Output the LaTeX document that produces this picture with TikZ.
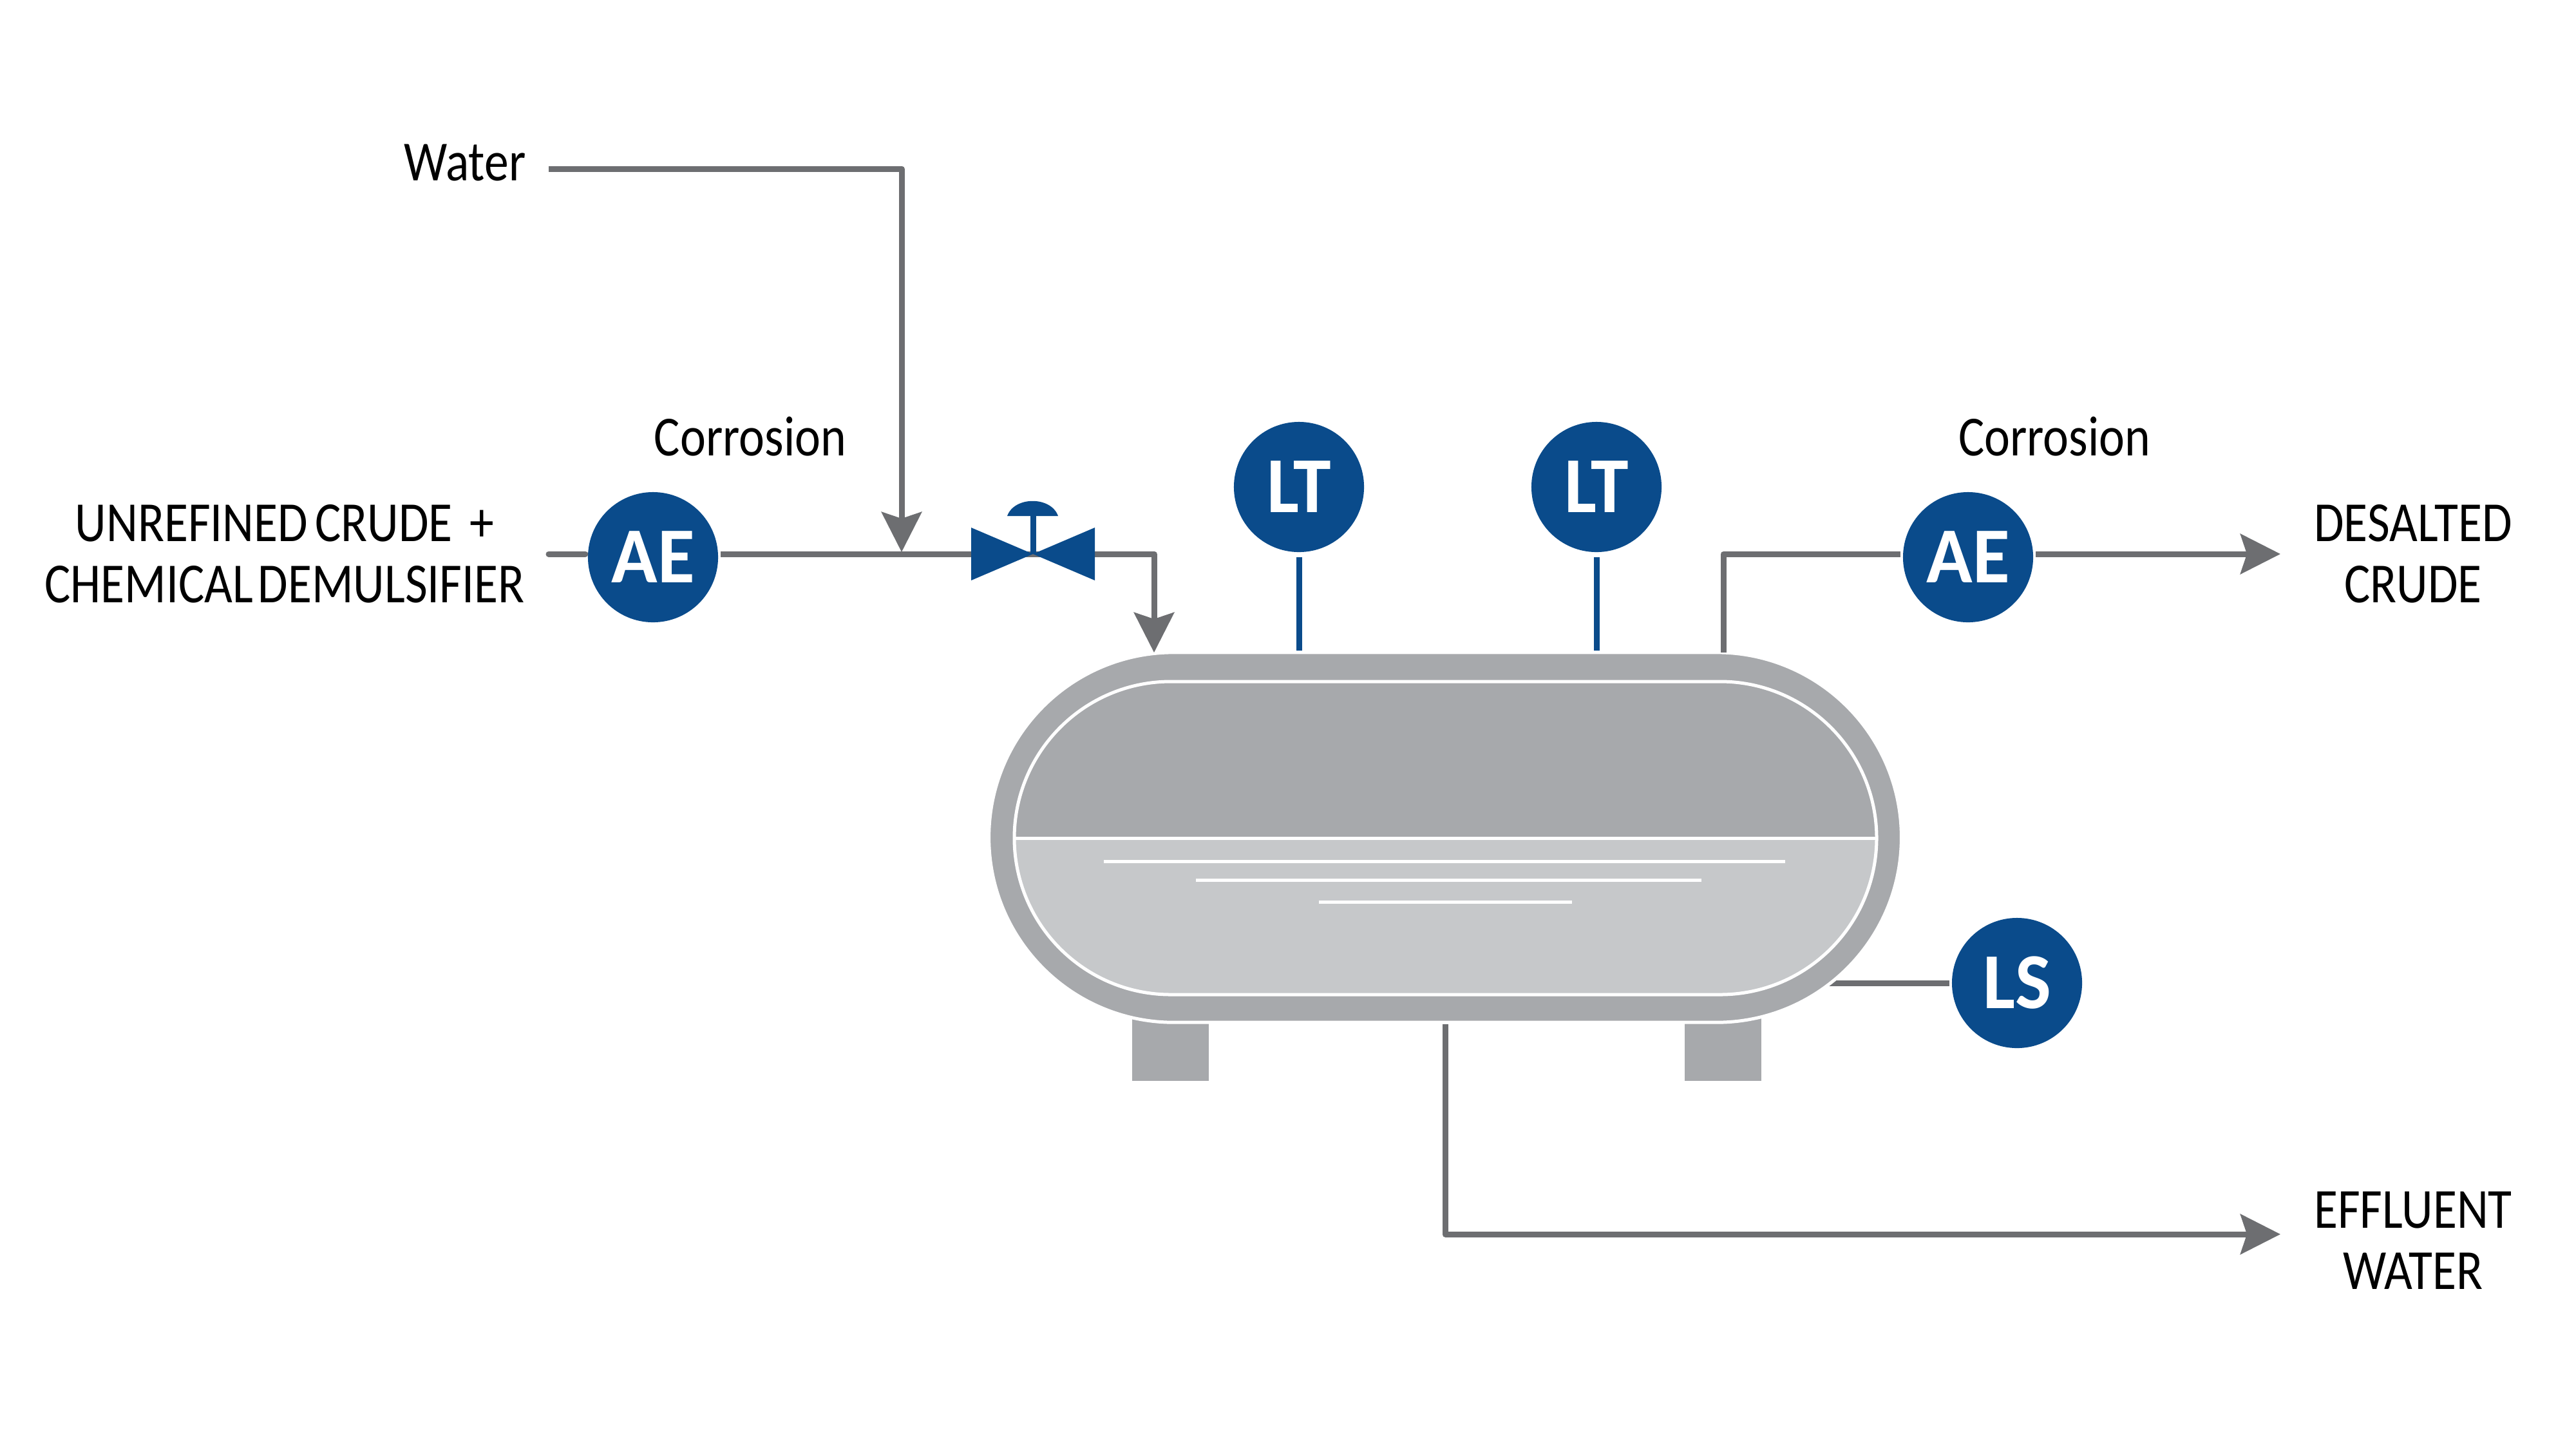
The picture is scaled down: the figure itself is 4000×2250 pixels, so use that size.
\documentclass[tikz,border=0pt]{standalone}
\usepackage{fontspec}
\setmainfont{Carlito}
\newfontfamily\labelfont[FakeStretch=0.86]{Carlito}
\newfontfamily\tagfont[FakeStretch=0.96]{Carlito Bold}
\usepackage{xcolor}
\usetikzlibrary{arrows.meta,backgrounds}
\definecolor{pipegray}{HTML}{6D6E71}
\definecolor{tagblue}{HTML}{0A4B8B}
\definecolor{shellgray}{HTML}{A7A9AC}
\definecolor{liquidgray}{HTML}{C6C8CA}
\begin{document}
\begin{tikzpicture}[x=0.01cm,y=-0.01cm,lbl/.style={font=\labelfont\fontsize{25}{27}\selectfont,align=center,inner sep=0pt},tag/.style={circle,fill=tagblue,text=white,minimum size=2.02cm,inner sep=0pt,outer sep=0.04cm,font=\tagfont\fontsize{35}{35}\selectfont},pipe/.style={line width=0.09cm,draw=pipegray,line join=round},flow/.style={pipe,-{Stealth[length=0.62cm,width=0.62cm,inset=0.1cm]}},sig/.style={line width=0.09cm,draw=tagblue},shell/.style={rectangle,fill=shellgray,draw=white,line width=0.05cm,rounded corners=2.87cm,minimum width=14.16cm,minimum height=5.74cm,inner sep=0pt},leg/.style={fill=shellgray},wline/.style={line width=0.05cm,draw=white}]
\useasboundingbox (0,0) rectangle (4000,2250);
\node[shell] (vessel) at (2244,1300) {};
\fill[shellgray,rounded corners=2.43cm] (1575,1058) rectangle (2914,1544);
\begin{scope}
\clip (1575,1301) rectangle (2914,1550);
\fill[liquidgray,rounded corners=2.43cm] (1575,1058) rectangle (2914,1544);
\end{scope}
\draw[wline,rounded corners=2.43cm] (1575,1058) rectangle (2914,1544);
\draw[wline] (1575,1301) -- (2914,1301);
\draw[wline] (1714,1337) -- (2772,1337);
\draw[wline] (1857,1366) -- (2642,1366);
\draw[wline] (2048,1400) -- (2441,1400);
\node[tag] (aeIn) at (1014,865) {AE};
\node[tag] (aeOut) at (3056,865) {AE};
\node[tag] (ltA) at (2017,756) {LT};
\node[tag] (ltB) at (2479,756) {LT};
\node[tag] (lsLvl) at (3132,1526) {LS};
\node[lbl] (water) at (722,253) {Water};
\node[lbl] (corrA) at (1165,678) {Corrosion};
\node[lbl] (corrB) at (3190,678) {Corrosion};
\node[lbl] (crude) at (442,860) {UNREFINED\hspace{-0.06cm} CRUDE\hspace{0.1cm} +\\CHEMICAL\hspace{-0.09cm} DEMULSIFIER};
\node[lbl] (desalt) at (3747,860) {DESALTED\\CRUDE};
\node[lbl] (efflu) at (3747,1926) {EFFLUENT\\WATER};
\node[inner sep=0pt] (valve) at (1604,860) {};
\coordinate (inl) at (852,860);
\coordinate (wstart) at (852,262);
\coordinate (tee) at (1400,857);
\coordinate (feed) at (1792,1013);
\coordinate (outl) at (2676,1013);
\coordinate (desaltTip) at (3541,860);
\coordinate (effluTip) at (3541,1916);
\begin{scope}[on background layer]
\fill[leg] (1758,1580) rectangle (1877,1678);
\fill[leg] (2616,1580) rectangle (2735,1678);
\draw[pipe] (lsLvl.west) -- (vessel.center |- lsLvl);
\end{scope}
\draw[pipe,line cap=round] (inl) -- (aeIn.west |- inl);
\draw[flow] (aeIn.east |- inl) -- (valve.center) -| (feed);
\draw[flow] (wstart) -| (tee);
\draw[pipe] (outl) |- (aeOut.west |- inl);
\draw[flow] (aeOut.east |- inl) -- (desaltTip);
\draw[flow] (vessel.south) |- (effluTip);
\draw[sig] ([yshift=-0.04cm]ltA.south) -- (ltA |- vessel.north);
\draw[sig] ([yshift=-0.04cm]ltB.south) -- (ltB |- vessel.north);
\fill[tagblue] (1508,819) -- (1604,860) -- (1508,901) -- cycle;
\fill[tagblue] (1700,819) -- (1604,860) -- (1700,901) -- cycle;
\draw[sig] (valve.center) -- (1604,801);
\fill[tagblue] (1564,801) .. controls (1575,770) and (1632,770) .. (1643,801) -- cycle;
\end{tikzpicture}
\end{document}
